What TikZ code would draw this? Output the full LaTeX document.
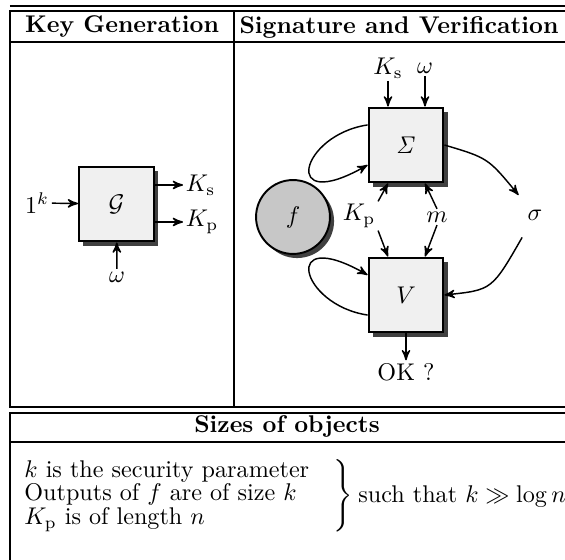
\documentclass[tikz,border=0pt]{standalone}
\usetikzlibrary{arrows,shadows}

\begin{document}
\begin{tikzpicture}[x=0.414pt,y=-0.414pt]

\tikzset{block/.style = {shape=rectangle,draw,line width=0.8pt,fill=black!6,minimum size=31pt,drop shadow={shadow xshift=1.7pt,shadow yshift=-1.7pt,fill=black!75,opacity=1}}}
\tikzset{fun/.style = {shape=circle,draw,line width=0.8pt,fill=black!22,minimum size=30.6pt,drop shadow={shadow xshift=1.7pt,shadow yshift=-1.7pt,fill=black!75,opacity=1}}}
\tikzset{lbl/.style = {inner sep=1pt}}
\tikzset{edge/.style = {->,> = stealth',line width=0.6pt}}
\tikzset{rule/.style = {line width=0.85pt}}
\useasboundingbox (0,0) rectangle (565,560);
%table
\draw[rule] (10,6) -- (565,6);
\draw[rule] (565,11) -- (10,11) -- (10,407) -- (565,407);
\draw[rule] (10,42) -- (565,42);
\draw[rule] (234,11) -- (234,407);
\draw[rule] (565,413) -- (10,413) -- (10,560);
\draw[rule] (10,442) -- (565,442);
\node (keygen) at (122,27) {\bfseries Key Generation};
\node (sigver) at (399,27) {\bfseries Signature and Verification};
\node (sizes) at (287,426) {\bfseries Sizes of objects};
%key generation
\node[block] (G) at (116.5,204) {$\mathcal{G}$};
\node[lbl] (one) at (37,203) {$1^k$};
\node[lbl,anchor=west] (Ks1) at (183,185) {$K_{\mathrm{s}}$};
\node[lbl,anchor=west] (Kp1) at (183,222) {$K_{\mathrm{p}}$};
\node[lbl] (w1) at (117,277) {$\omega$};
\draw[edge] (one) -- (G);
\draw[edge] (G.east |- Ks1) -- (Ks1);
\draw[edge] (G.east |- Kp1) -- (Kp1);
\draw[edge] (w1) -- (G);
%signature and verification
\node[block] (Sig) at (406,145) {$\mathit{\Sigma}$};
\node[block] (V) at (406,295) {$V$};
\node[fun] (f) at (293,217) {$f$};
\node[lbl] (Ks2) at (388,68) {$K_{\mathrm{s}}$};
\node[lbl] (w2) at (425,68) {$\omega$};
\node[lbl] (Kp2) at (359,216) {$K_{\mathrm{p}}$};
\node[lbl] (m) at (437,217) {$m$};
\node[lbl,shape=circle,minimum size=21pt] (sigma) at (535,215) {$\sigma$};
\node[lbl] (ok) at (406,372) {OK ?};
\draw[edge] (Ks2) -- (Ks2 |- Sig.north);
\draw[edge] (w2) -- (w2 |- Sig.north);
\draw[edge] (Kp2.north east) -- (Ks2 |- Sig.south);
\draw[edge] (m.north) -- (w2 |- Sig.south);
\draw[edge] (Kp2.south east) -- (Ks2 |- V.north);
\draw[edge] (m.south) -- (w2 |- V.north);
\draw[edge] (V) -- (ok);
\draw[edge] ([yshift=8.3pt]Sig.west) .. controls (300,135) and (280,215) .. ([yshift=-8.3pt]Sig.west);
\draw[edge] ([yshift=-8.3pt]V.west) .. controls (300,305) and (280,225) .. ([yshift=8.3pt]V.west);
\draw[edge] (Sig.east) .. controls (488,158) .. (sigma);
\draw[edge] (sigma) .. controls (492,290) .. (V.east);
%sizes
\node[anchor=west,inner sep=0pt] (sizetext) at (21,496) {\renewcommand{\arraystretch}{0.78}$\left.\begin{tabular}{@{}l@{\hspace{10pt}}}$k$ is the security parameter\\ Outputs of $f$ are of size $k$\\ $K_{\mathrm{p}}$ is of length $n$\end{tabular}\right\}$\hspace{-1pt} such that $k\gg\log n$};

\end{tikzpicture}
\end{document}
